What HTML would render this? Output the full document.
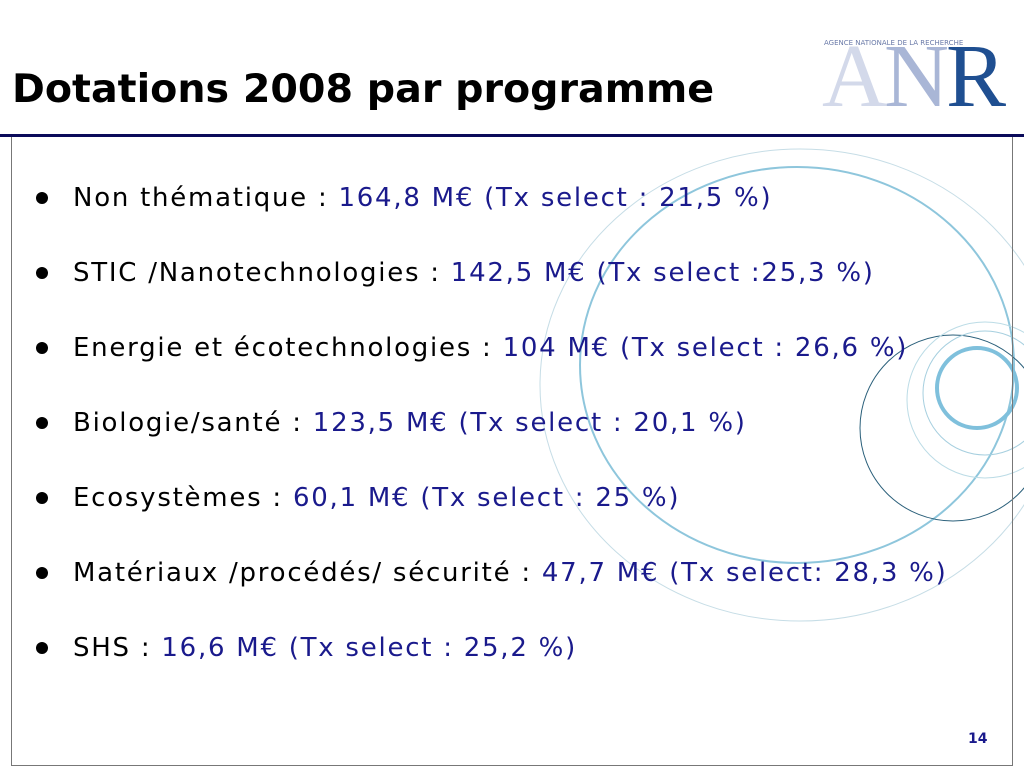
<!DOCTYPE html>
<html><head><meta charset="utf-8">
<style>
body{margin:0;width:1024px;height:768px;background:#fff;overflow:hidden;position:relative;font-family:"DejaVu Sans",Verdana,sans-serif}
.t{position:absolute;left:12px;top:66px;font-weight:bold;font-size:39.6px;color:#000;white-space:nowrap}
.rule{position:absolute;left:0;top:134px;width:1024px;height:3px;background:#0a0a5a}
.box{position:absolute;left:11px;top:137px;width:1000px;height:628px;border:1px solid #777;border-top:none}
.row{position:absolute;left:73px;font-size:26px;letter-spacing:1.75px;color:#000;white-space:nowrap}
.row span{color:#1a1a8c}
.dot{position:absolute;left:36px;width:12px;height:12px;border-radius:50%;background:#000}
.pg{position:absolute;left:968px;top:731px;font-size:14px;font-weight:bold;color:#1a1a8c}
</style></head><body>
<svg style="position:absolute;left:0;top:0" width="1024" height="768">
<ellipse cx="800" cy="385" rx="260" ry="236" fill="none" stroke="#c6dde6" stroke-width="1"/>
<ellipse cx="797" cy="365" rx="217" ry="198" fill="none" stroke="#8ec6dc" stroke-width="2"/>
<circle cx="953" cy="428" r="93" fill="none" stroke="#2a5f7a" stroke-width="1"/>
<circle cx="985" cy="400" r="78" fill="none" stroke="#bcdce6" stroke-width="1"/>
<circle cx="985" cy="393" r="62" fill="none" stroke="#a6cfdf" stroke-width="1"/>
<circle cx="977" cy="388" r="40" fill="none" stroke="#7fc0dc" stroke-width="4"/>
</svg>
<div class="t">Dotations 2008 par programme</div>
<div style="position:absolute;left:822px;top:30px;width:190px;height:90px">
<div style="position:absolute;left:2px;top:9px;font-size:7px;color:#6a7aa8;white-space:nowrap">AGENCE NATIONALE DE LA RECHERCHE</div>
<div style="position:absolute;left:0;top:2px;font-family:'Liberation Serif',serif;font-size:90px;line-height:90px;white-space:nowrap;letter-spacing:-3px"><span style="color:#d3d9ea">A</span><span style="color:#a9b6d6">N</span><span style="color:#1f4f91">R</span></div>
</div>
<div class="rule"></div>
<div class="box"></div>
<div class="dot" style="top:192px"></div>
<div class="row" style="top:183px">Non thématique : <span>164,8 M€ (Tx select : 21,5 %)</span></div>
<div class="dot" style="top:267px"></div>
<div class="row" style="top:258px">STIC /Nanotechnologies : <span>142,5 M€ (Tx select :25,3 %)</span></div>
<div class="dot" style="top:342px"></div>
<div class="row" style="top:333px">Energie et écotechnologies : <span>104 M€ (Tx select : 26,6 %)</span></div>
<div class="dot" style="top:417px"></div>
<div class="row" style="top:408px">Biologie/santé : <span>123,5 M€ (Tx select : 20,1 %)</span></div>
<div class="dot" style="top:492px"></div>
<div class="row" style="top:483px">Ecosystèmes : <span>60,1 M€ (Tx select : 25 %)</span></div>
<div class="dot" style="top:567px"></div>
<div class="row" style="top:558px">Matériaux /procédés/ sécurité : <span>47,7 M€ (Tx select: 28,3 %)</span></div>
<div class="dot" style="top:642px"></div>
<div class="row" style="top:633px">SHS : <span>16,6 M€ (Tx select : 25,2 %)</span></div>
<div class="pg">14</div>
</body></html>
